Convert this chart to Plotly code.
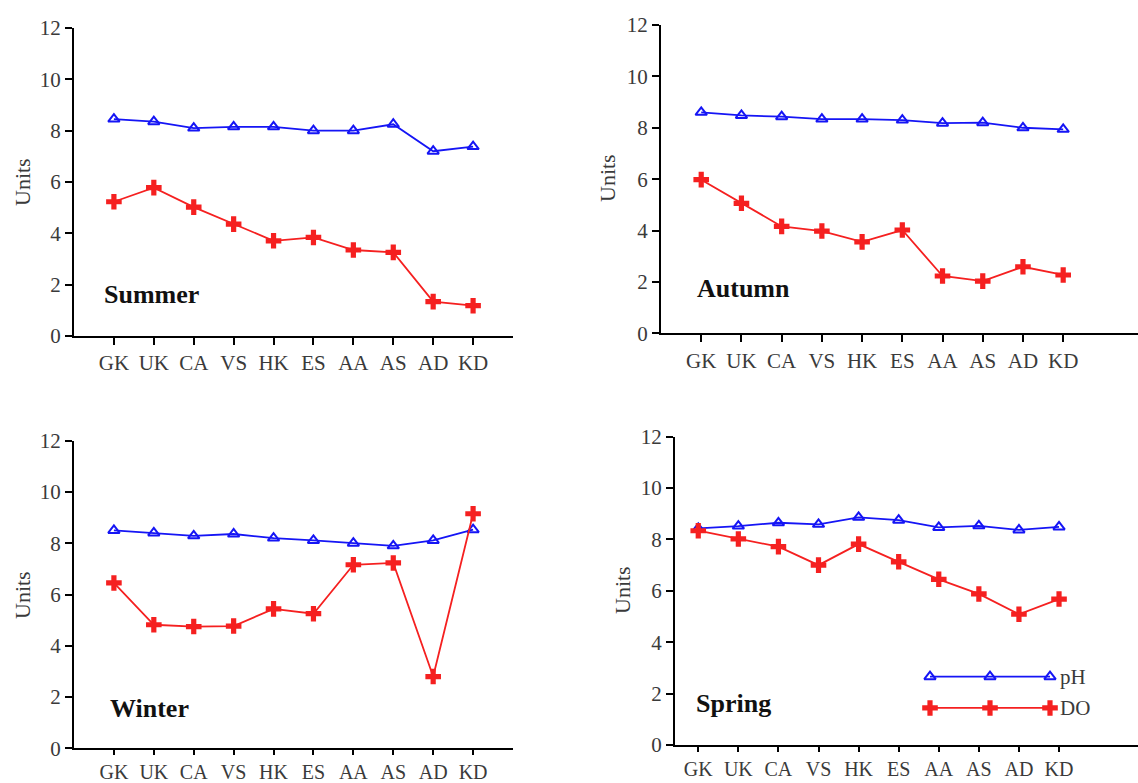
import plotly.graph_objects as go

sites = ["GK", "UK", "CA", "VS", "HK", "ES", "AA", "AS", "AD", "KD"]
y_ticks = [0, 2, 4, 6, 8, 10, 12]

seasons = ["Summer", "Autumn", "Winter", "Spring"]

ph_summer = [8.45, 8.35, 8.1, 8.15, 8.15, 8.0, 8.0, 8.25, 7.2, 7.38]
do_summer = [5.23, 5.78, 5.02, 4.36, 3.71, 3.84, 3.35, 3.26, 1.34, 1.18]

ph_autumn = [8.6, 8.48, 8.43, 8.34, 8.34, 8.3, 8.18, 8.2, 8.0, 7.94]
do_autumn = [5.98, 5.06, 4.16, 3.98, 3.56, 4.02, 2.23, 2.03, 2.59, 2.27]

ph_winter = [8.5, 8.4, 8.29, 8.36, 8.2, 8.11, 8.0, 7.9, 8.11, 8.53]
do_winter = [6.45, 4.82, 4.75, 4.77, 5.44, 5.25, 7.16, 7.23, 2.8, 9.15]

ph_spring = [8.43, 8.52, 8.65, 8.59, 8.86, 8.75, 8.47, 8.53, 8.37, 8.49]
do_spring = [8.34, 8.02, 7.72, 7.0, 7.82, 7.13, 6.45, 5.88, 5.09, 5.68]

legend_labels = ["DO", "pH"]
legend_points = [0, 1, 2]

ph_data = [ph_summer, ph_autumn, ph_winter, ph_spring]
do_data = [do_summer, do_autumn, do_winter, do_spring]

W, H = 1138, 783
BLUE = "#1515f5"
RED = "#f52020"
TXT = "#3a3a3a"
FONT = "Liberation Serif"

# panel geometry in pixels: (x_left, x_right, y_top, y_bottom, x_range)
panels = [
    (74, 513, 28, 336, [-1, 10]),
    (661, 1138, 25, 333.3, [-1, 10.86]),
    (74, 513, 440.7, 748.3, [-1, 10]),
    (675, 1138, 436.7, 745, [-0.58, 10.97]),
]
units_pos = [(22, 182), (607, 178), (22, 595), (622, 590)]
season_pos = [(102, 294), (695, 289), (108, 708), (694, 703)]

fig = go.Figure()
layout = dict(
    width=W, height=H,
    margin=dict(l=0, r=0, t=0, b=0, autoexpand=False),
    paper_bgcolor="white", plot_bgcolor="white",
    showlegend=False,
    font=dict(family=FONT, size=20, color=TXT),
    annotations=[],
)

for i, (xl, xr, yt, yb, xr_range) in enumerate(panels):
    n = i + 1
    xa = "x" if n == 1 else f"x{n}"
    ya = "y" if n == 1 else f"y{n}"
    fig.add_trace(go.Scatter(
        x=sites, y=ph_data[i], xaxis=xa, yaxis=ya, name="pH",
        mode="lines+markers",
        line=dict(color=BLUE, width=1.8),
        marker=dict(symbol="triangle-up-open", size=10, color=BLUE, line=dict(width=2, color=BLUE)),
        cliponaxis=False,
    ))
    fig.add_trace(go.Scatter(
        x=sites, y=do_data[i], xaxis=xa, yaxis=ya, name="DO",
        mode="lines+markers",
        line=dict(color=RED, width=1.8),
        marker=dict(symbol="cross", size=13, color=RED, line=dict(width=0)),
        cliponaxis=False,
    ))
    xkey = "xaxis" if n == 1 else f"xaxis{n}"
    ykey = "yaxis" if n == 1 else f"yaxis{n}"
    bottom_row = i >= 2
    layout[xkey] = dict(
        domain=[xl / W, xr / W], anchor=ya, type="category",
        categoryorder="array", categoryarray=sites,
        range=xr_range, showgrid=False, zeroline=False, automargin=False,
        showline=True, linecolor="black", linewidth=2,
        ticks="outside", ticklen=5 if bottom_row else 7, tickwidth=1.5, tickcolor="black",
        tickfont=dict(family=FONT, size=20 if bottom_row else 21, color=TXT),
    )
    layout[ykey] = dict(
        domain=[1 - yb / H, 1 - yt / H], anchor=xa,
        range=[0, 12], tickvals=y_ticks, showgrid=False, zeroline=False, automargin=False,
        showline=True, linecolor="black", linewidth=2,
        ticks="outside", ticklen=7, tickwidth=1.5, tickcolor="black",
        tickfont=dict(family=FONT, size=21, color=TXT),
    )
    ux, uy = units_pos[i]
    layout["annotations"].append(dict(
        text="Units", x=ux / W, y=1 - uy / H, xref="paper", yref="paper",
        xanchor="center", yanchor="middle", textangle=-90, showarrow=False,
        font=dict(family=FONT, size=22, color=TXT),
    ))
    sx, sy = season_pos[i]
    layout["annotations"].append(dict(
        text=f"<b>{seasons[i]}</b>", x=sx / W, y=1 - sy / H, xref="paper", yref="paper",
        xanchor="left", yanchor="middle", showarrow=False,
        font=dict(family=FONT, size=26, color="#111111"),
    ))

# custom legend drawn on a small dedicated axis pair
fig.add_trace(go.Scatter(
    x=legend_points, y=[legend_labels[1]] * 3, xaxis="x5", yaxis="y5",
    mode="lines+markers", line=dict(color=BLUE, width=1.8),
    marker=dict(symbol="triangle-up-open", size=10, color=BLUE, line=dict(width=2, color=BLUE)),
    cliponaxis=False,
))
fig.add_trace(go.Scatter(
    x=legend_points, y=[legend_labels[0]] * 3, xaxis="x5", yaxis="y5",
    mode="lines+markers", line=dict(color=RED, width=1.8),
    marker=dict(symbol="cross", size=13, color=RED, line=dict(width=0)),
    cliponaxis=False,
))
layout["xaxis5"] = dict(domain=[930 / W, 1050 / W], anchor="y5", range=[0, 2],
                        visible=False, fixedrange=True, automargin=False)
layout["yaxis5"] = dict(domain=[1 - 723.6 / H, 1 - 661 / H], anchor="x5", side="right",
                        type="category", categoryorder="array", categoryarray=legend_labels,
                        range=[-0.5, 1.5], showgrid=False, zeroline=False, showline=False,
                        ticks="", ticklabelstandoff=9, automargin=False,
                        tickfont=dict(family=FONT, size=21, color=TXT), fixedrange=True)

fig.update_layout(**layout)
fig.write_html("out.html")
